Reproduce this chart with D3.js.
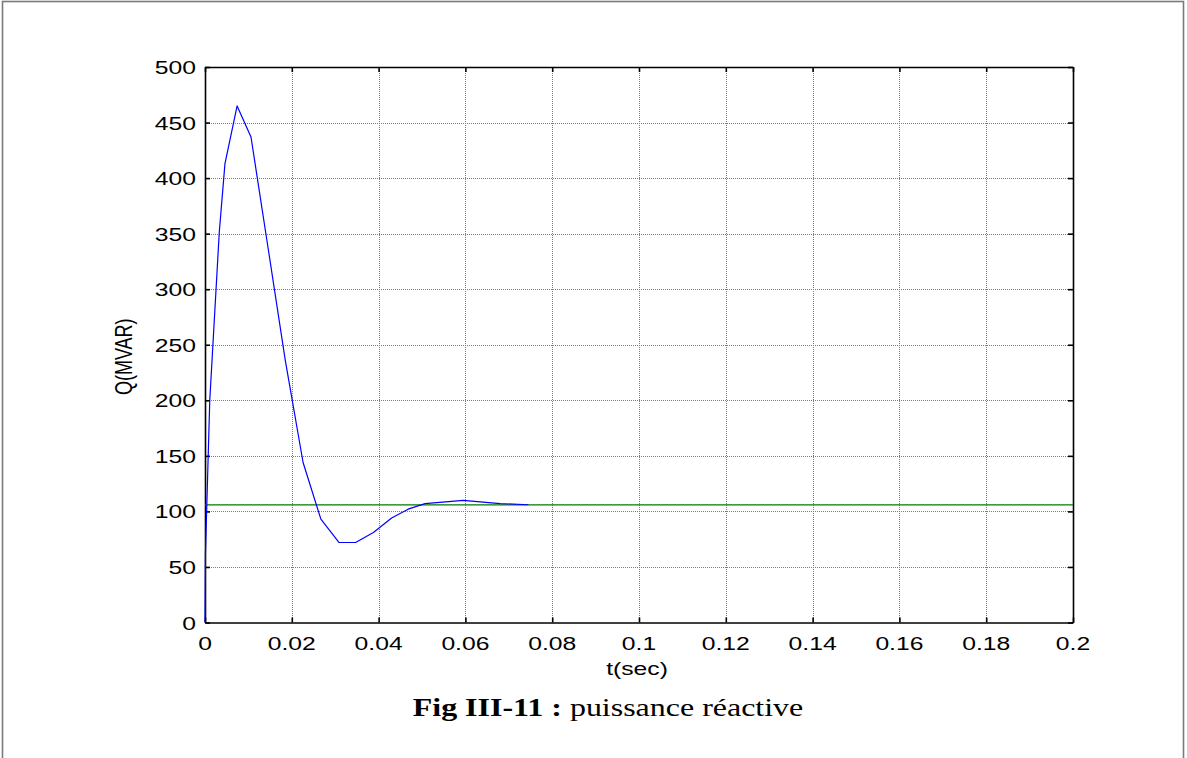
<!DOCTYPE html>
<html>
<head>
<meta charset="utf-8">
<script src="https://cdn.jsdelivr.net/npm/d3@7"></script>
<style>
  html, body { margin: 0; padding: 0; background: #fff; }
  svg { display: block; }
</style>
</head>
<body>
<svg id="chart" width="1187" height="758"></svg>
<script>
// Reactive power transient Q(t), in MVAR
const timeSec = [0, 0.0001, 0.0011, 0.0033, 0.0046, 0.0074, 0.0106, 0.0145, 0.0185, 0.0226,
                 0.0267, 0.0309, 0.0347, 0.0388, 0.0430, 0.0468, 0.0507, 0.0595, 0.0680, 0.0745];
const qMvar   = [0, 62, 200, 352, 413, 465, 437, 338, 236, 144,
                 93, 72, 72, 81, 94, 102, 107, 110, 107, 106];

// Steady-state reference level
const refTime = [0, 0.2];
const refQ    = [105.8, 105.8];

const xTicks = [0, 0.02, 0.04, 0.06, 0.08, 0.1, 0.12, 0.14, 0.16, 0.18, 0.2];
const yTicks = [0, 50, 100, 150, 200, 250, 300, 350, 400, 450, 500];
const xLabels = ["0", "0.02", "0.04", "0.06", "0.08", "0.1", "0.12", "0.14", "0.16", "0.18", "0.2"];
const yLabels = ["0", "50", "100", "150", "200", "250", "300", "350", "400", "450", "500"];

const svg = d3.select("#chart");
const box = { left: 205, right: 1073, top: 67, bottom: 622.5 };

const x = d3.scaleLinear().domain([0, 0.2]).range([box.left, box.right]);
const y = d3.scaleLinear().domain([0, 500]).range([box.bottom, box.top]);

// page frame
svg.append("rect")
  .attr("x", 2.5).attr("y", 1.5)
  .attr("width", 1181).attr("height", 800)
  .attr("fill", "none").attr("stroke", "#7a7a7a").attr("stroke-width", 1.6);

const labelFont = "'Liberation Sans', Arial, Helvetica, sans-serif";
const labelSize = 19;
const sx = 1.3; // horizontal stretch of the axis lettering

// dotted grid
const grid = svg.append("g");
grid.selectAll("line.gx").data(xTicks.slice(1, -1)).enter().append("line")
  .attr("x1", d => Math.round(x(d)) + 0.5).attr("x2", d => Math.round(x(d)) + 0.5)
  .attr("y1", box.top).attr("y2", box.bottom)
  .attr("stroke", "#7c7c7c").attr("stroke-width", 1).attr("stroke-dasharray", "1,1");
grid.selectAll("line.gy").data(yTicks.slice(1, -1)).enter().append("line")
  .attr("y1", d => Math.round(y(d)) + 0.5).attr("y2", d => Math.round(y(d)) + 0.5)
  .attr("x1", box.left).attr("x2", box.right)
  .attr("stroke", "#7c7c7c").attr("stroke-width", 1).attr("stroke-dasharray", "1,1");

// axes with inward ticks on all four sides
const tickLen = 5;
const axisBottom = d3.axisBottom(x).tickValues(xTicks).tickSizeInner(-tickLen).tickSizeOuter(0).tickFormat("");
const axisTop = d3.axisTop(x).tickValues(xTicks).tickSizeInner(-tickLen).tickSizeOuter(0).tickFormat("");
const axisLeft = d3.axisLeft(y).tickValues(yTicks).tickSizeInner(-tickLen).tickSizeOuter(0).tickFormat("");
const axisRight = d3.axisRight(y).tickValues(yTicks).tickSizeInner(-tickLen).tickSizeOuter(0).tickFormat("");

function styleAxis(g) {
  g.select(".domain").attr("stroke", "#000").attr("stroke-width", 1.6);
  g.selectAll(".tick line").attr("stroke", "#000").attr("stroke-width", 1.6);
}
svg.append("g").attr("transform", `translate(0,${box.bottom})`).call(axisBottom).call(styleAxis);
svg.append("g").attr("transform", `translate(0,${box.top})`).call(axisTop).call(styleAxis);
svg.append("g").attr("transform", `translate(${box.left},0)`).call(axisLeft).call(styleAxis);
svg.append("g").attr("transform", `translate(${box.right},0)`).call(axisRight).call(styleAxis);

// tick labels
svg.append("g").selectAll("text").data(xTicks).enter().append("text")
  .attr("transform", d => `translate(${x(d)},${box.bottom + 27}) scale(${sx},1)`)
  .attr("text-anchor", "middle")
  .attr("font-family", labelFont).attr("font-size", labelSize).attr("fill", "#000")
  .text((d, i) => xLabels[i]);

svg.append("g").selectAll("text").data(yTicks).enter().append("text")
  .attr("transform", d => `translate(${box.left - 9},${y(d) + 7}) scale(${sx},1)`)
  .attr("text-anchor", "end")
  .attr("font-family", labelFont).attr("font-size", labelSize).attr("fill", "#000")
  .text((d, i) => yLabels[i]);

// axis titles
svg.append("text")
  .attr("transform", `translate(${(box.left + box.right) / 2 - 2},${box.bottom + 52}) scale(${sx},1)`)
  .attr("text-anchor", "middle")
  .attr("font-family", labelFont).attr("font-size", labelSize).attr("fill", "#000")
  .text("t(sec)");

svg.append("text")
  .attr("transform", `translate(132,${(box.top + box.bottom) / 2 + 12}) scale(${sx},1) rotate(-90)`)
  .attr("text-anchor", "middle")
  .attr("font-family", labelFont).attr("font-size", 18).attr("fill", "#000")
  .text("Q(MVAR)");

// curves
const lineGen = d3.line().x(d => x(d[0])).y(d => y(d[1]));

svg.append("path")
  .datum(d3.zip(refTime, refQ))
  .attr("d", lineGen)
  .attr("fill", "none").attr("stroke", "#007a00").attr("stroke-width", 1.3);

svg.append("path")
  .datum(d3.zip(timeSec, qMvar))
  .attr("d", lineGen)
  .attr("fill", "none").attr("stroke", "#0000ff").attr("stroke-width", 1.2)
  .attr("stroke-linejoin", "round");

// caption
const cap = svg.append("text")
  .attr("transform", `translate(608,716) scale(1.23,1)`)
  .attr("text-anchor", "middle")
  .attr("font-family", "'Liberation Serif', 'Times New Roman', serif")
  .attr("font-size", 26).attr("fill", "#000");
cap.append("tspan").attr("font-weight", "bold").text("Fig III-11 :");
cap.append("tspan").text(" puissance réactive");
</script>
</body>
</html>
